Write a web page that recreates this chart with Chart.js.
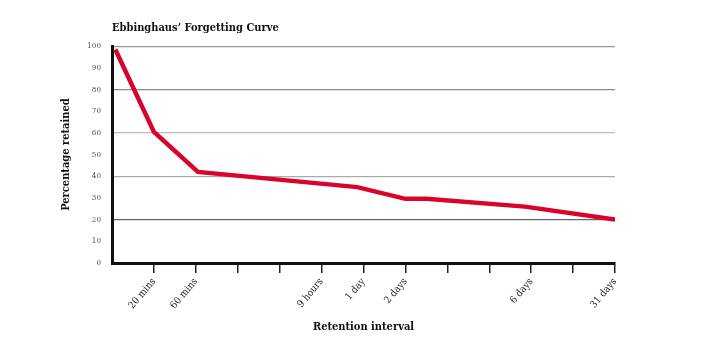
<!DOCTYPE html>
<html>
<head>
<meta charset="utf-8">
<script src="https://cdn.jsdelivr.net/npm/chart.js@4.4.0/dist/chart.umd.min.js"></script>
<style>
  html, body { margin: 0; padding: 0; background: #fff; }
  #wrap { width: 702px; height: 354px; }
</style>
</head>
<body>
<div id="wrap"><canvas id="curve"></canvas></div>
<script>
// tick labels for the retention interval axis (0 = axis origin)
var intervalLabels = ['', '20 mins', '60 mins', '', '', '9 hours', '1 day', '2 days', '', '', '6 days', '', '31 days'];
// position of each point along the interval axis, and percentage retained
var intervalPos = [0.08, 1, 2.05, 5.85, 7, 7.5, 9.85, 12];
var retained = [98.5, 60.5, 42, 35, 29.6, 29.6, 26, 20];

var gridColors = { 20: '#666', 40: '#aaa', 60: '#bbb', 80: '#888', 100: '#999' };

var points = [];
for (var i = 0; i < intervalPos.length; i++) {
  points.push({ x: intervalPos[i], y: retained[i] });
}

var serif = "'DejaVu Serif Condensed', 'DejaVu Serif', serif";

new Chart(document.getElementById('curve'), {
  type: 'line',
  data: {
    datasets: [{
      data: points,
      borderColor: '#d9042b',
      borderWidth: 4.5,
      pointRadius: 0,
      tension: 0,
      borderJoinStyle: 'miter'
    }]
  },
  options: {
    responsive: true,
    maintainAspectRatio: false,
    animation: false,
    layout: { padding: { left: 60, right: 87, top: 22, bottom: 16 } },
    plugins: {
      legend: { display: false },
      tooltip: { enabled: false },
      title: {
        display: true,
        text: 'Ebbinghaus\u2019 Forgetting Curve',
        align: 'start',
        fullSize: false,
        color: '#111',
        font: { family: serif, size: 11, weight: 'bold' },
        padding: { top: 0, bottom: 11 }
      }
    },
    scales: {
      x: {
        type: 'linear',
        min: 0,
        max: 12,
        afterFit: function (s) { s.height = 75; },
        border: { display: true, color: '#111', width: 3 },
        grid: {
          drawOnChartArea: false,
          drawTicks: true,
          tickLength: 10,
          lineWidth: 1.5,
          color: function (ctx) { return ctx.index === 0 ? 'rgba(0,0,0,0)' : '#222'; }
        },
        ticks: {
          stepSize: 1,
          autoSkip: false,
          maxRotation: 50,
          minRotation: 50,
          padding: 3,
          color: '#222',
          font: { family: serif, size: 10 },
          callback: function (v) { return intervalLabels[v]; }
        },
        title: {
          display: true,
          text: 'Retention interval',
          color: '#111',
          font: { family: serif, size: 11, weight: 'bold' },
          padding: { top: 4, bottom: 4 }
        }
      },
      y: {
        min: 0,
        max: 100,
        afterFit: function (s) { s.width = 52; },
        border: { display: true, color: '#111', width: 3 },
        grid: {
          drawTicks: false,
          lineWidth: 1.2,
          color: function (ctx) {
            var v = ctx.tick ? ctx.tick.value : 0;
            return gridColors[v] || 'rgba(0,0,0,0)';
          }
        },
        ticks: {
          stepSize: 10,
          padding: 11,
          color: '#555',
          font: { family: serif, size: 8 }
        },
        title: {
          display: true,
          text: 'Percentage retained',
          color: '#111',
          font: { family: serif, size: 11, weight: 'bold' },
          padding: { top: 0, bottom: 0 }
        }
      }
    }
  }
});
</script>
</body>
</html>
